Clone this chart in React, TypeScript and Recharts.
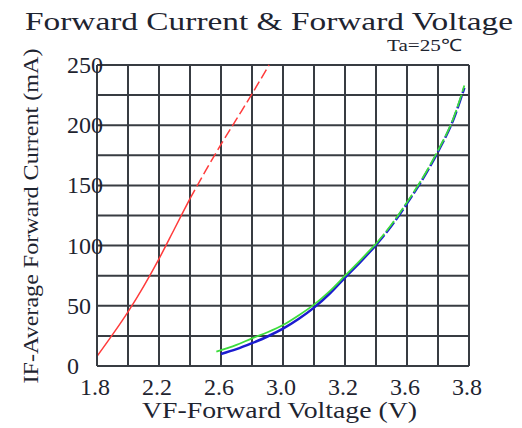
import { LineChart, Line, XAxis, YAxis, CartesianGrid } from 'recharts'

// x axis labels as printed on the sheet (one label every second grid line)
const xTickVolts = [1.8, 2.2, 2.6, 3.0, 3.2, 3.6, 3.8]
const xGridTicks = [0, 1, 2, 3, 4, 5, 6, 7, 8, 9, 10, 11, 12]
const yTicks = [0, 25, 50, 75, 100, 125, 150, 175, 200, 225, 250]

// red curve
const redVolts = [1.8, 1.9, 2.0, 2.1, 2.2, 2.3, 2.4, 2.5, 2.6, 2.7, 2.8, 2.91]
const redCurrent = [8, 26, 45, 66, 89, 114, 139, 162, 184, 205, 226, 250]
const redDashFrom = 2.4

// blue curve
const blueVolts = [2.6, 2.7, 2.8, 2.9, 3.0, 3.05, 3.1, 3.15, 3.2, 3.3, 3.4, 3.5, 3.6, 3.65, 3.7, 3.75, 3.785]
const blueCurrent = [10, 14, 19, 24.5, 31, 39, 48.5, 60, 73.5, 86.5, 100.5, 116.5, 135, 155, 178, 205, 231]

// green curve
const greenVolts = [2.57, 2.7, 2.8, 2.9, 3.0, 3.05, 3.1, 3.15, 3.2, 3.3, 3.4, 3.5, 3.6, 3.65, 3.7, 3.75, 3.785]
const greenCurrent = [12, 17.5, 23, 28, 34, 42, 51, 62, 75, 88, 101.5, 117.5, 136, 156, 179, 206, 233]
const bgDashFrom = 3.4

const FONT = '"Liberation Serif", "Times New Roman", serif'
const INK = '#1e2430'
const GRID = '#383c42'

// the printed voltage labels are not evenly spaced, so map volts onto grid columns
function toGrid(v: number) {
  for (let i = 0; i < xTickVolts.length - 1; i++) {
    const a = xTickVolts[i]
    const b = xTickVolts[i + 1]
    if (v <= b || i === xTickVolts.length - 2) return 2 * i + (2 * (v - a)) / (b - a)
  }
  return 0
}

function series(volts: number[], current: number[], from: number, to: number) {
  return volts
    .map((v, i) => ({ x: toGrid(v), y: current[i], v }))
    .filter((p) => p.v >= from && p.v <= to)
}

const redSolid = series(redVolts, redCurrent, 0, redDashFrom)
const redDashed = series(redVolts, redCurrent, redDashFrom, 99)
const blueSolid = series(blueVolts, blueCurrent, 0, bgDashFrom)
const blueDashed = series(blueVolts, blueCurrent, bgDashFrom, 99)
const greenSolid = series(greenVolts, greenCurrent, 0, bgDashFrom)
const greenDashed = series(greenVolts, greenCurrent, bgDashFrom, 99)

const YTick = (props: any) => {
  const { y, payload } = props
  if (payload.value % 50 !== 0) return <g />
  return (
    <text x={67} y={y + 8} fontFamily={FONT} fontSize={24} fill={INK} textAnchor="start">
      {payload.value}
    </text>
  )
}

const XTick = (props: any) => {
  const { x, payload } = props
  if (payload.value % 2 !== 0) return <g />
  const label = xTickVolts[payload.value / 2].toFixed(1)
  return (
    <text x={x - 2} y={395} fontFamily={FONT} fontSize={24} fill={INK} textAnchor="middle">
      {label}
    </text>
  )
}

export default function App() {
  const lineProps = {
    dataKey: 'y',
    type: 'monotone' as const,
    dot: false,
    activeDot: false,
    isAnimationActive: false
  }
  return (
    <div style={{ position: 'absolute', left: 0, top: 0, width: 522, height: 428, background: '#fff' }}>
      <LineChart width={522} height={428} margin={{ top: 65, right: 53, bottom: 32, left: 57 }}>
        <CartesianGrid stroke={GRID} strokeWidth={2} />
        <XAxis
          type="number"
          dataKey="x"
          domain={[0, 12]}
          ticks={xGridTicks}
          tick={<XTick />}
          tickLine={false}
          axisLine={{ stroke: GRID, strokeWidth: 2 }}
          height={30}
          allowDataOverflow
        />
        <YAxis
          type="number"
          domain={[0, 250]}
          ticks={yTicks}
          tick={<YTick />}
          tickLine={false}
          axisLine={{ stroke: GRID, strokeWidth: 2 }}
          width={40}
          interval={0}
        />
        <Line {...lineProps} data={redSolid} stroke="#ff3b3b" strokeWidth={1.5} />
        <Line {...lineProps} data={redDashed} stroke="#ff3b3b" strokeWidth={1.5} strokeDasharray="10 4" />
        <Line {...lineProps} data={blueSolid} stroke="#1c1ccf" strokeWidth={2.5} />
        <Line {...lineProps} data={blueDashed} stroke="#1c1ccf" strokeWidth={2.5} strokeDasharray="13 3" />
        <Line {...lineProps} data={greenSolid} stroke="#3ddc3d" strokeWidth={1.8} />
        <Line {...lineProps} data={greenDashed} stroke="#3ddc3d" strokeWidth={1.8} strokeDasharray="13 3" />
      </LineChart>
      <svg
        width={522}
        height={428}
        style={{ position: 'absolute', left: 0, top: 0, pointerEvents: 'none' }}
      >
        <text x={25} y={30} fontFamily={FONT} fontSize={26} fill={INK} textLength={488} lengthAdjust="spacingAndGlyphs">
          Forward Current &amp; Forward Voltage
        </text>
        <text x={387} y={51} fontFamily={FONT} fontSize={17} fill={INK} textLength={75} lengthAdjust="spacingAndGlyphs">
          Ta=25℃
        </text>
        <text x={142} y={418} fontFamily={FONT} fontSize={23} fill={INK} textLength={275} lengthAdjust="spacingAndGlyphs">
          VF-Forward Voltage (V)
        </text>
        <text
          transform="rotate(-90)"
          x={-216}
          y={38}
          fontFamily={FONT}
          fontSize={22}
          fill={INK}
          textAnchor="middle"
          textLength={335}
          lengthAdjust="spacingAndGlyphs"
        >
          IF-Average Forward Current (mA)
        </text>
      </svg>
    </div>
  )
}
